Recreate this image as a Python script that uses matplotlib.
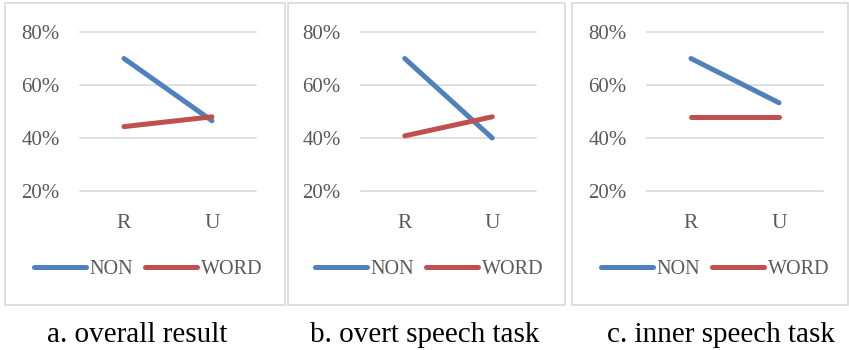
import matplotlib
matplotlib.use("Agg")
import matplotlib.pyplot as plt
from matplotlib.patches import Rectangle
from matplotlib.lines import Line2D
from matplotlib.ticker import PercentFormatter

W, H = 849, 350
DPI = 100

CATEGORIES = ["R", "U"]
SERIES = ["NON", "WORD"]
COLORS = ["#4F81BD", "#C0504D"]

NON_VALUES = [
    [0.70, 0.465],   # overall
    [0.70, 0.40],    # overt
    [0.70, 0.533],   # inner
]
WORD_VALUES = [
    [0.443, 0.48],
    [0.408, 0.48],
    [0.48, 0.48],
]
CAPTIONS = ["a. overall result", "b. overt speech task", "c. inner speech task"]
Y_TICKS = [0.2, 0.4, 0.6, 0.8]

# pixel layout (left, right) of each panel box and plot area
BOXES = [(5, 285), (288, 565), (572, 848)]
PLOTS = [(80, 256), (361, 536), (647, 823)]
LEGEND_CENTERS = [148, 429, 715]
CAPTION_CENTERS = [137, 425, 721]

GRID_TOP, GRID_BOTTOM = 32, 191
BOX_TOP, BOX_BOTTOM = 3, 305
LEGEND_Y = 269

plt.rcParams["font.family"] = ["Liberation Serif", "DejaVu Serif"]

fig = plt.figure(figsize=(W / DPI, H / DPI), dpi=DPI)


def fx(px):
    return px / W


def fy(py):
    return 1 - py / H


for i in range(3):
    bl, br = BOXES[i]
    fig.add_artist(Rectangle((fx(bl), fy(BOX_BOTTOM)), fx(br - bl), (BOX_BOTTOM - BOX_TOP) / H,
                             transform=fig.transFigure, fill=False,
                             edgecolor="#D9D9D9", linewidth=1.2))

    pl, pr = PLOTS[i]
    ax = fig.add_axes([fx(pl), fy(GRID_BOTTOM), fx(pr - pl), (GRID_BOTTOM - GRID_TOP) / H])
    x = list(range(len(CATEGORIES)))
    ax.plot(x, NON_VALUES[i], color=COLORS[0], linewidth=3.6, solid_capstyle="round")
    ax.plot(x, WORD_VALUES[i], color=COLORS[1], linewidth=3.6, solid_capstyle="round")
    ax.set_xlim(-0.5, 1.5)
    ax.set_ylim(0.2, 0.8)
    ax.set_yticks(Y_TICKS)
    ax.yaxis.set_major_formatter(PercentFormatter(1.0, decimals=0))
    ax.set_xticks(x)
    ax.set_xticklabels(CATEGORIES)
    for s in ax.spines.values():
        s.set_visible(False)
    ax.grid(True, axis="y", color="#D9D9D9", linewidth=1.2)
    for gl in ax.get_ygridlines():
        gl.set_clip_on(False)
    ax.set_axisbelow(True)
    ax.tick_params(axis="y", length=0, pad=14.5, labelsize=15, labelcolor="#595959")
    ax.tick_params(axis="x", length=0, pad=16.5, labelsize=15.5, labelcolor="#595959")

    handles = [Line2D([], [], color=c, linewidth=3.6, solid_capstyle="round") for c in COLORS]
    fig.legend(handles, SERIES, loc="center", ncol=2, frameon=False,
               bbox_to_anchor=(fx(LEGEND_CENTERS[i]), fy(LEGEND_Y)),
               fontsize=14.5, handlelength=2.6, handletextpad=0.15,
               columnspacing=0.6, borderpad=0, labelcolor="#595959")

    fig.text(fx(CAPTION_CENTERS[i]), 8 / H, CAPTIONS[i], ha="center", va="baseline",
             fontsize=21, color="black")

fig.savefig("out.png", dpi=DPI)
